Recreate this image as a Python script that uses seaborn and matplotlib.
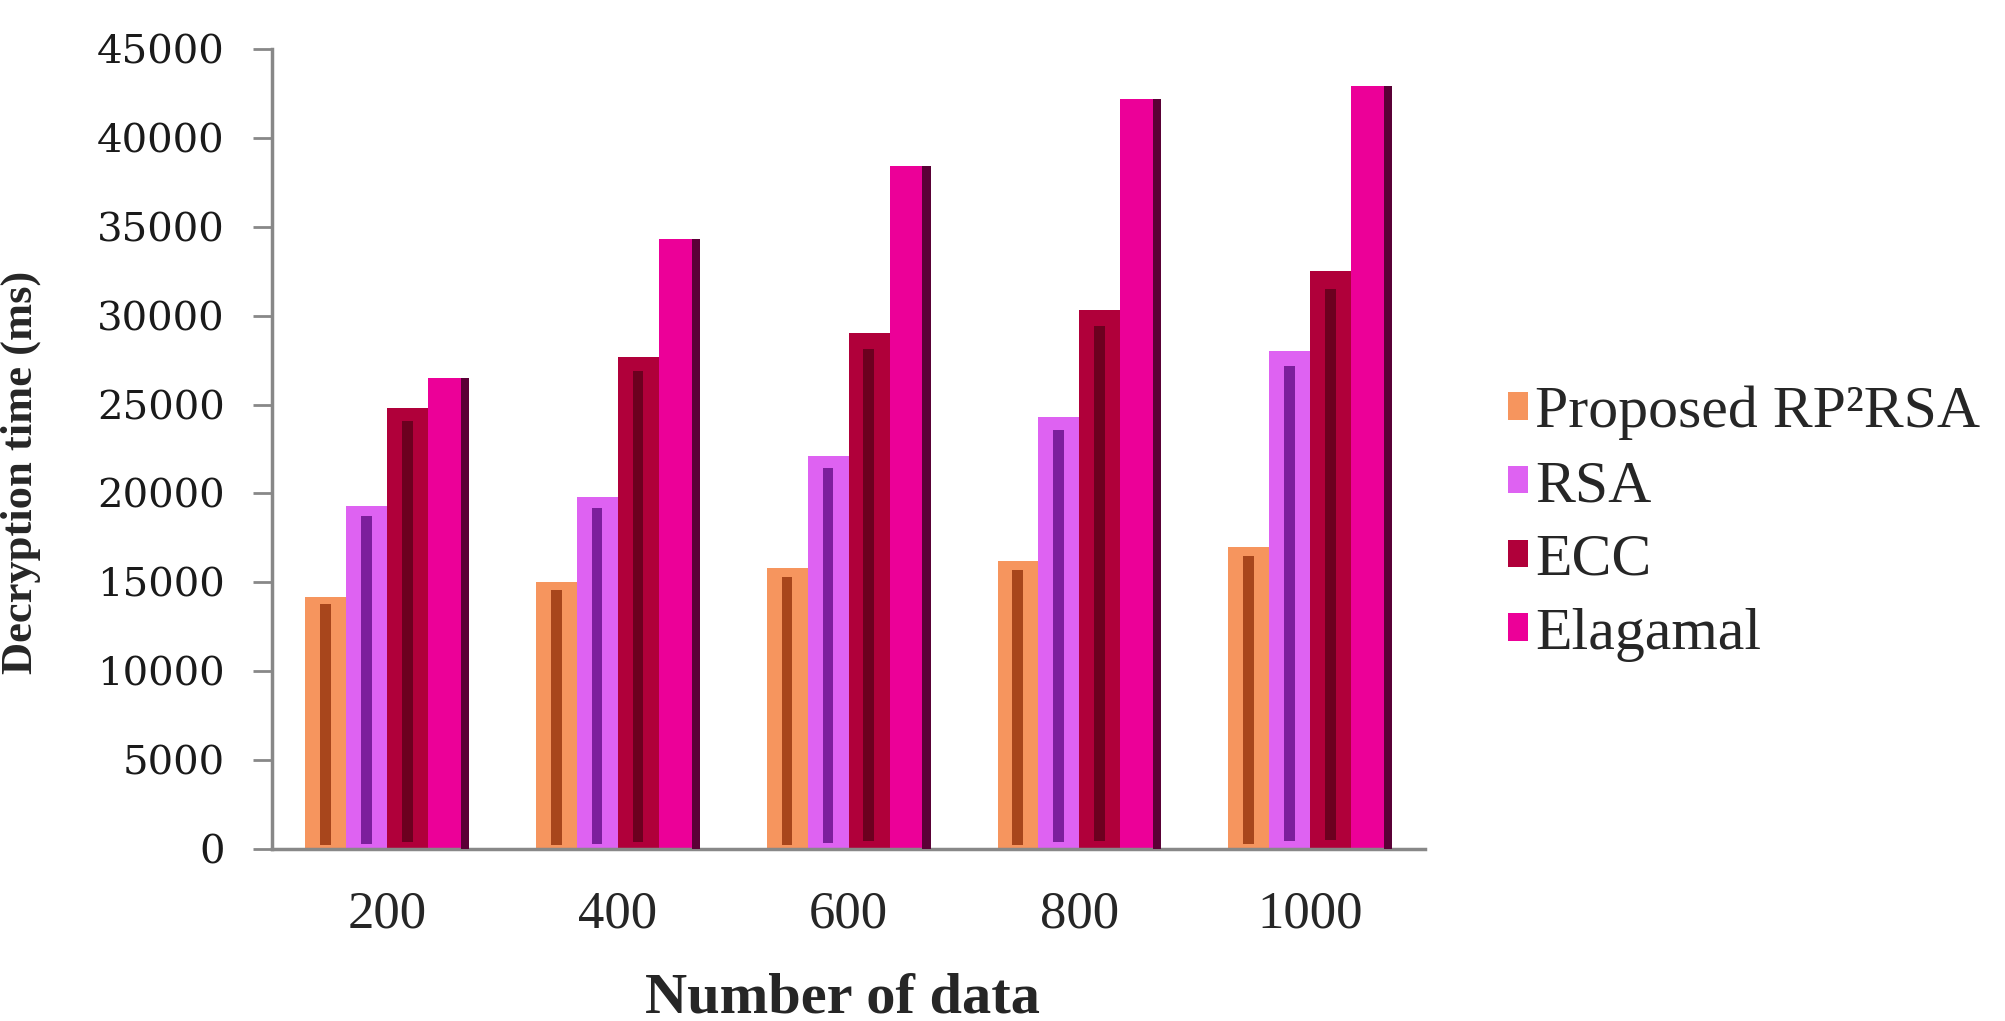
import matplotlib
matplotlib.use("Agg")
import matplotlib.pyplot as plt
import matplotlib.patches as mpatches
import pandas as pd
import numpy as np
import seaborn as sns

# data
sizes = ["200", "400", "600", "800", "1000"]
methods = ["Proposed RP\u00b2RSA", "RSA", "ECC", "Elagamal"]
proposed = [14200, 15000, 15800, 16200, 17000]
rsa = [19300, 19800, 22100, 24300, 28000]
ecc = [24800, 27700, 29000, 30300, 32500]
elagamal = [26500, 34300, 38400, 42200, 42900]

colors = ["#F6955E", "#DE62F2", "#B0003A", "#EC0098"]
stripe_colors = ["#A8461C", "#7C1F9C", "#6C001F", "#5A0036"]

df = pd.DataFrame({
    "size": sizes * 4,
    "method": [m for m in methods for _ in sizes],
    "time": proposed + rsa + ecc + elagamal,
})

sns.set_style("white")
plt.rcParams["font.family"] = ["Liberation Serif", "DejaVu Serif"]

fig = plt.figure(figsize=(20.06, 10.21), dpi=100)
ax = fig.add_axes([0.1356, 0.1685, 0.575, 0.7835])

sns.barplot(data=df, x="size", y="time", hue="method", order=sizes,
            hue_order=methods, palette=colors, width=0.71, gap=0,
            saturation=1, legend=False, linewidth=0, ax=ax)

# fake the 3d shading: darker stripe inside each bar
for i, cont in enumerate(ax.containers):
    for p in cont.patches:
        x, w, h = p.get_x(), p.get_width(), p.get_height()
        if i == 3:
            ax.add_patch(mpatches.Rectangle((x + w * 0.8, 0), w * 0.2, h,
                                            color=stripe_colors[i], lw=0, zorder=3))
        else:
            ax.add_patch(mpatches.Rectangle((x + w * 0.36, h * 0.015), w * 0.26, h * 0.955,
                                            color=stripe_colors[i], lw=0, zorder=3))

ax.set_ylim(0, 45000)
ax.set_xlim(-0.5, 4.5)
ax.set_yticks(np.arange(0, 45001, 5000))
ax.set_yticklabels([str(v) for v in range(0, 45001, 5000)],
                   fontfamily="DejaVu Serif", fontsize=29, color="#1a1a1a")

ax.set_xticks(range(len(sizes)))
ax.set_xticklabels(sizes, fontsize=38)
ax.set_xticks(np.arange(-0.5, 4.6, 1), minor=True)
ax.tick_params(axis="x", which="major", length=0, pad=30)
ax.tick_params(axis="x", which="minor", length=14, width=2, color="#888888", direction="out")
ax.tick_params(axis="y", which="major", length=14, width=2, color="#888888",
               direction="out", left=True, pad=20)

for s in ["top", "right"]:
    ax.spines[s].set_visible(False)
for s in ["left", "bottom"]:
    ax.spines[s].set_color("#888888")
    ax.spines[s].set_linewidth(2.5)

ax.set_xlabel("Number of data", fontsize=42, fontweight="bold")
ax.set_ylabel("Decryption time (ms)", fontsize=32, fontweight="bold")
ax.xaxis.set_label_coords(0.495, -0.154)
ax.yaxis.set_label_coords(-0.2, 0.471)

handles = [mpatches.Patch(facecolor=c, edgecolor="none") for c in colors]
fig.legend(handles, methods, loc="center left", bbox_to_anchor=(0.740, 0.487),
           frameon=False, fontsize=43, handlelength=0.33, handleheight=0.33,
           handletextpad=0.12, labelspacing=0.33, borderaxespad=0)

fig.savefig("out.png", dpi=100)
